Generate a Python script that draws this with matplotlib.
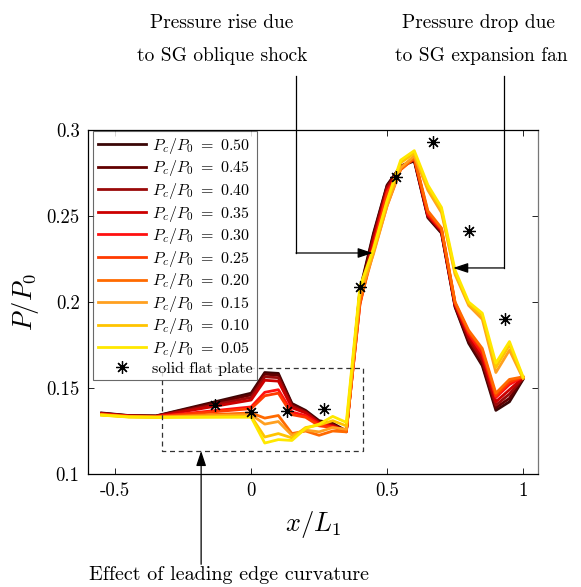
import numpy as np
import matplotlib
matplotlib.use("Agg")
import matplotlib.pyplot as plt
from matplotlib.lines import Line2D

plt.rcParams['font.family'] = ['cmr10', 'DejaVu Serif']
plt.rcParams['mathtext.fontset'] = 'cm'
plt.rcParams['axes.unicode_minus'] = False

# wall pressure along the plate, one series per cavity pressure ratio
x_stations = [-0.55, -0.45, -0.35, 0.0, 0.05, 0.10, 0.15, 0.20, 0.25, 0.30, 0.35, 0.40,
              0.45, 0.50, 0.55, 0.60, 0.65, 0.70, 0.75, 0.80, 0.85, 0.90, 0.95, 1.00]

p050 = [0.1355, 0.1340, 0.1338, 0.1470, 0.1590, 0.1585, 0.1410, 0.1370, 0.1310, 0.1295, 0.1250, 0.2070,
        0.2400, 0.2680, 0.2790, 0.2820, 0.2490, 0.2400, 0.1970, 0.1760, 0.1630, 0.1370, 0.1420, 0.1550]
p045 = [0.1353, 0.1339, 0.1337, 0.1460, 0.1580, 0.1575, 0.1405, 0.1365, 0.1305, 0.1290, 0.1250, 0.2060,
        0.2390, 0.2675, 0.2790, 0.2825, 0.2495, 0.2405, 0.1975, 0.1770, 0.1640, 0.1385, 0.1440, 0.1555]
p040 = [0.1352, 0.1338, 0.1336, 0.1445, 0.1565, 0.1560, 0.1395, 0.1360, 0.1300, 0.1285, 0.1248, 0.2040,
        0.2375, 0.2665, 0.2785, 0.2830, 0.2500, 0.2410, 0.1980, 0.1785, 0.1660, 0.1400, 0.1465, 0.1558]
p035 = [0.1350, 0.1337, 0.1335, 0.1430, 0.1545, 0.1540, 0.1385, 0.1355, 0.1295, 0.1280, 0.1245, 0.2020,
        0.2360, 0.2655, 0.2780, 0.2835, 0.2505, 0.2415, 0.1985, 0.1800, 0.1680, 0.1420, 0.1490, 0.1560]
p030 = [0.1348, 0.1336, 0.1334, 0.1390, 0.1475, 0.1490, 0.1360, 0.1340, 0.1290, 0.1275, 0.1250, 0.1990,
        0.2330, 0.2640, 0.2775, 0.2840, 0.2510, 0.2420, 0.1990, 0.1815, 0.1700, 0.1445, 0.1520, 0.1565]
p025 = [0.1346, 0.1335, 0.1333, 0.1380, 0.1455, 0.1470, 0.1345, 0.1330, 0.1280, 0.1270, 0.1252, 0.1985,
        0.2320, 0.2630, 0.2770, 0.2835, 0.2520, 0.2425, 0.1995, 0.1825, 0.1720, 0.1455, 0.1535, 0.1565]
p020 = [0.1345, 0.1334, 0.1332, 0.1355, 0.1325, 0.1340, 0.1235, 0.1250, 0.1225, 0.1250, 0.1245, 0.2000,
        0.2290, 0.2560, 0.2770, 0.2840, 0.2530, 0.2430, 0.2000, 0.1835, 0.1730, 0.1470, 0.1550, 0.1565]
p015 = [0.1344, 0.1333, 0.1331, 0.1345, 0.1290, 0.1305, 0.1225, 0.1255, 0.1245, 0.1270, 0.1260, 0.2040,
        0.2280, 0.2560, 0.2780, 0.2850, 0.2650, 0.2520, 0.2160, 0.1980, 0.1900, 0.1590, 0.1720, 0.1555]
p010 = [0.1343, 0.1332, 0.1330, 0.1335, 0.1215, 0.1235, 0.1210, 0.1270, 0.1285, 0.1310, 0.1280, 0.2070,
        0.2300, 0.2580, 0.2810, 0.2865, 0.2665, 0.2535, 0.2170, 0.1990, 0.1920, 0.1620, 0.1750, 0.1560]
p005 = [0.1342, 0.1331, 0.1329, 0.1330, 0.1180, 0.1200, 0.1195, 0.1265, 0.1290, 0.1335, 0.1300, 0.2090,
        0.2310, 0.2590, 0.2825, 0.2880, 0.2680, 0.2550, 0.2185, 0.2000, 0.1935, 0.1645, 0.1770, 0.1565]

ratios = ["0.50", "0.45", "0.40", "0.35", "0.30", "0.25", "0.20", "0.15", "0.10", "0.05"]
series = [p050, p045, p040, p035, p030, p025, p020, p015, p010, p005]
colors = ["#3a0606", "#620000", "#9a0a0a", "#cc0000", "#ff1010",
          "#ff3a00", "#ff6a00", "#ffa020", "#ffc400", "#ffe800"]

# solid flat plate reference
plate_x = [-0.133, 0.0, 0.133, 0.267, 0.40, 0.533, 0.667, 0.80, 0.933]
plate_y = [0.140, 0.136, 0.1366, 0.1378, 0.2087, 0.2727, 0.2930, 0.2413, 0.190]

fig = plt.figure(figsize=(5.81, 5.87), dpi=100)
ax = fig.add_axes([0.1515, 0.1925, 0.7745, 0.586])

for vals, r, c in zip(series, ratios, colors):
    ax.plot(x_stations, vals, color=c, lw=2.0, label=r'$P_c/P_0\ =\ %s$' % r)

star = (8, 2, 0)
ax.plot(plate_x, plate_y, ls='none', marker=star, ms=9, mew=0.9,
        color='black', label='solid flat plate')

ax.set_xlim(-0.6, 1.055)
ax.set_ylim(0.1, 0.3)
ax.set_xticks([-0.5, 0, 0.5, 1])
ax.set_xticklabels(['-0.5', '0', '0.5', '1'])
ax.set_yticks([0.1, 0.15, 0.2, 0.25, 0.3])
ax.set_yticklabels(['0.1', '0.15', '0.2', '0.25', '0.3'])
ax.tick_params(direction='in', top=True, right=True, length=4, width=0.6,
               labelsize=13.5, pad=6)
for s in ax.spines.values():
    s.set_linewidth(0.9)
ax.spines['right'].set_color('#777777')

ax.set_xlabel(r'$x/L_1$', fontsize=19, labelpad=6)
ax.set_ylabel(r'$P/P_0$', fontsize=19, labelpad=4)

leg = ax.legend(loc='upper left', bbox_to_anchor=(0.011, 0.997), fontsize=11.5,
                frameon=True, fancybox=False, edgecolor='#444444',
                handlelength=3.0, handletextpad=0.4, labelspacing=0.16,
                borderpad=0.3, borderaxespad=0.0)
leg.get_frame().set_linewidth(0.8)

# leading edge region
ax.plot([-0.327, 0.41, 0.41, -0.327, -0.327],
        [0.1616, 0.1616, 0.1134, 0.1134, 0.1616],
        ls=(0, (4, 3)), color='#333333', lw=0.9)

arrow = dict(arrowstyle='-|>,head_length=0.9,head_width=0.3', color='black',
             lw=0.9, shrinkA=0, shrinkB=0)

# shock annotation
ax.add_line(Line2D([0.165, 0.165], [0.3314, 0.2285], color='black', lw=0.9, clip_on=False))
ax.annotate('', xy=(0.447, 0.2285), xytext=(0.165, 0.2285), arrowprops=arrow,
            annotation_clip=False)
fig.text(222 / 581, 1 - 23 / 587, 'Pressure rise due', ha='center', va='center', fontsize=14)
fig.text(222 / 581, 1 - 56 / 587, 'to SG oblique shock', ha='center', va='center', fontsize=14)

# expansion annotation
ax.add_line(Line2D([0.93, 0.93], [0.3314, 0.2198], color='black', lw=0.9, clip_on=False))
ax.annotate('', xy=(0.743, 0.2198), xytext=(0.93, 0.2198), arrowprops=arrow,
            annotation_clip=False)
fig.text(478 / 581, 1 - 23 / 587, 'Pressure drop due', ha='center', va='center', fontsize=14)
fig.text(481 / 581, 1 - 56 / 587, 'to SG expansion fan', ha='center', va='center', fontsize=14)

# leading edge annotation
ax.annotate('', xy=(-0.184, 0.1134), xytext=(-0.184, 0.0475), arrowprops=arrow,
            annotation_clip=False)
fig.text(229 / 581, 1 - 575 / 587, 'Effect of leading edge curvature',
         ha='center', va='center', fontsize=14.5)

fig.savefig('out.png', dpi=100, facecolor='white')
